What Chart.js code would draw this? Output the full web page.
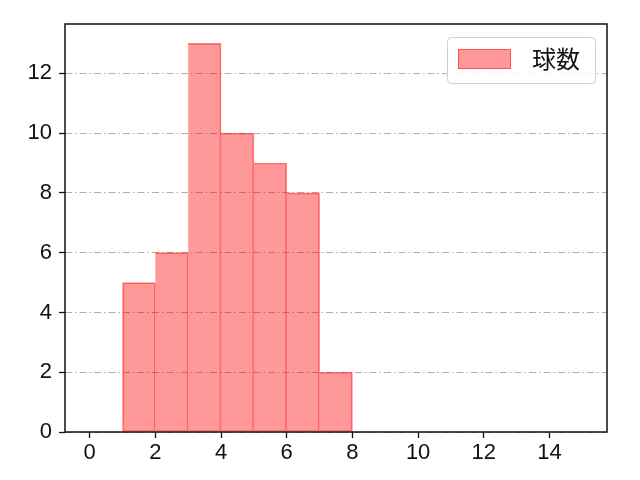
<!DOCTYPE html>
<html>
<head>
<meta charset="utf-8">
<script src="https://cdn.jsdelivr.net/npm/chart.js@4.4.1/dist/chart.umd.min.js"></script>
<style>
  html, body { margin: 0; padding: 0; background: #fff; }
  #wrap { width: 640px; height: 480px; }
</style>
</head>
<body>
<div id="wrap"><canvas id="pitchChart" width="640" height="480"></canvas></div>
<script>
// ヒストグラムのビン(左端)と度数
var binStarts = [1, 2, 3, 4, 5, 6, 7];
var counts = [5, 6, 13, 10, 9, 8, 2];
var seriesLabel = '球数';
var xTicks = [0, 2, 4, 6, 8, 10, 12, 14];
var yTicks = [0, 2, 4, 6, 8, 10, 12];

var FONT = '"Liberation Sans", "Noto Sans CJK JP", sans-serif';
var CJK_FONT = '"Noto Sans CJK JP", sans-serif';

var points = binStarts.map(function(s, i) {
    return { x: s + 0.5, y: counts[i] };
});

// 枠線と凡例を描く
var framePlugin = {
    id: 'frame',
    afterDraw: function(chart) {
        var ctx = chart.ctx;
        var a = chart.chartArea;
        ctx.save();
        ctx.strokeStyle = '#111';
        ctx.lineWidth = 1.5;
        ctx.strokeRect(a.left, a.top, a.right - a.left, a.bottom - a.top);

        // 凡例
        var bx = 447.5, by = 37.5, bw = 148, bh = 46;
        ctx.beginPath();
        if (ctx.roundRect) {
            ctx.roundRect(bx, by, bw, bh, 4);
        } else {
            ctx.rect(bx, by, bw, bh);
        }
        ctx.fillStyle = 'rgba(255,255,255,0.85)';
        ctx.fill();
        ctx.strokeStyle = '#d0d0d0';
        ctx.lineWidth = 1;
        ctx.stroke();
        ctx.fillStyle = 'rgba(255,0,0,0.4)';
        ctx.fillRect(458, 49, 53, 20);
        ctx.strokeStyle = 'rgba(255,0,0,0.45)';
        ctx.strokeRect(458.5, 49.5, 52, 19);
        ctx.fillStyle = '#111';
        ctx.font = '24px ' + CJK_FONT;
        ctx.textBaseline = 'middle';
        ctx.fillText(seriesLabel, 532, 59);
        ctx.restore();
    }
};

var ctx = document.getElementById('pitchChart').getContext('2d');
var chart = new Chart(ctx, {
    type: 'bar',
    data: {
        datasets: [{
            label: seriesLabel,
            data: points,
            backgroundColor: 'rgba(255,0,0,0.4)',
            borderColor: 'rgba(255,0,0,0.5)',
            borderWidth: 1,
            // 隣り合うビンの境界線が二重にならないよう左辺を省く
            borderSkipped: function(c) { return c.dataIndex === 0 ? false : 'left'; },
            barPercentage: 1,
            categoryPercentage: 1
        }]
    },
    options: {
        responsive: false,
        animation: false,
        layout: { padding: { left: 0, top: 24, right: 33, bottom: 0 } },
        plugins: {
            legend: { display: false },
            tooltip: { enabled: false }
        },
        scales: {
            x: {
                type: 'linear',
                min: -0.75,
                max: 15.75,
                offset: false,
                afterBuildTicks: function(scale) {
                    scale.ticks = xTicks.map(function(v) { return { value: v }; });
                },
                afterFit: function(scale) { scale.height = 48; },
                border: { display: false },
                grid: {
                    offset: false,
                    drawOnChartArea: false,
                    drawTicks: true,
                    tickLength: 6,
                    tickColor: '#111',
                    tickWidth: 1.3
                },
                ticks: {
                    color: '#111',
                    padding: 2,
                    maxRotation: 0,
                    font: { family: FONT, size: 22 }
                }
            },
            y: {
                min: 0,
                max: 13.65,
                z: 1,
                afterBuildTicks: function(scale) {
                    scale.ticks = yTicks.map(function(v) { return { value: v }; });
                },
                afterFit: function(scale) { scale.width = 65; },
                border: { display: false, dash: [7, 3, 1.5, 3] },
                grid: {
                    color: '#b0b0b0',
                    lineWidth: 1,
                    drawTicks: true,
                    tickLength: 6,
                    tickColor: '#111',
                    tickWidth: 1.3,
                    tickBorderDash: []
                },
                ticks: {
                    color: '#111',
                    padding: 7,
                    font: { family: FONT, size: 22 }
                }
            }
        }
    },
    plugins: [framePlugin]
});
</script>
</body>
</html>
